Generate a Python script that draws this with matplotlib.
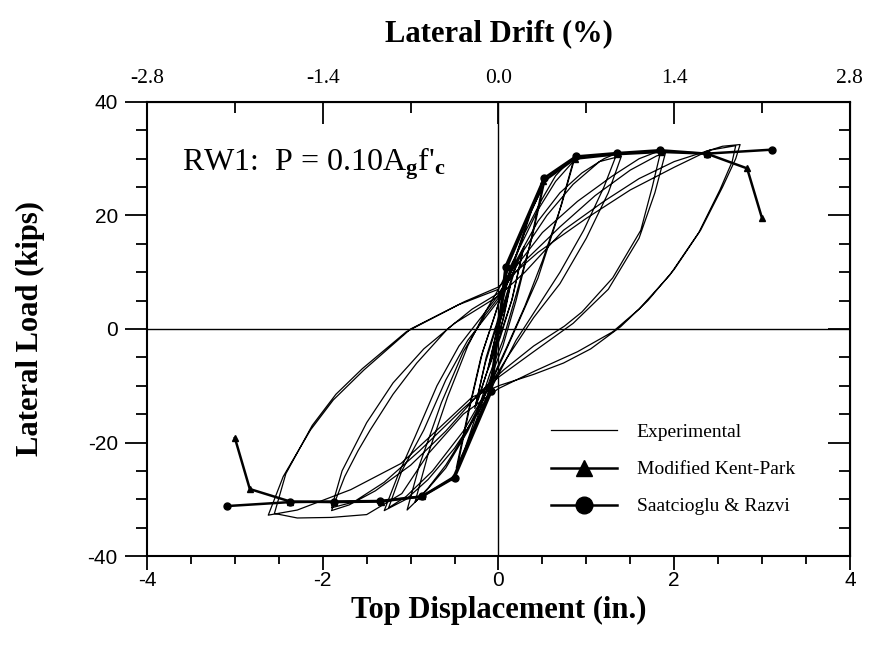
import numpy as np
import matplotlib
matplotlib.use("Agg")
import matplotlib.pyplot as plt
from matplotlib.ticker import MultipleLocator, FixedLocator, FormatStrFormatter, NullFormatter

plt.rcParams['axes.unicode_minus'] = False
plt.rcParams['mathtext.fontset'] = 'custom'
plt.rcParams['mathtext.rm'] = 'Liberation Serif'
plt.rcParams['mathtext.bf'] = 'Liberation Serif:bold'
plt.rcParams['mathtext.it'] = 'Liberation Serif:italic'

# experimental load-displacement history (in., kips)
exp_x = [0.00, 0.08, 0.14, 0.06, -0.04, -0.12, -0.03, 0.05, 0.13, 0.04, -0.05, -0.11, -0.02,
         0.10, 0.20, 0.28, 0.15, 0.02, -0.12, -0.22, -0.27, -0.15, -0.02, 0.10, 0.20, 0.29, 0.16, 0.02, -0.14, -0.26, -0.14, -0.02,
         0.10, 0.25, 0.38, 0.52, 0.38, 0.20, 0.05, -0.10, -0.25, -0.38, -0.48, -0.35, -0.20, -0.05, 0.05, 0.20, 0.35, 0.50, 0.36, 0.20,
         0.05, -0.10, -0.25, -0.40, -0.47, -0.33, -0.18, -0.03,
         0.10, 0.30, 0.50, 0.65, 0.80, 0.87, 0.72, 0.50, 0.30, 0.10, -0.05, -0.20, -0.40, -0.60, -0.80, -0.95, -0.80, -0.58, -0.35,
         -0.15, 0.00, 0.20, 0.45, 0.65, 0.85, 0.68, 0.45, 0.25, 0.05, -0.10, -0.35, -0.60, -0.85, -1.04, -0.90, -0.65, -0.40, -0.15, 0.00,
         0.20, 0.45, 0.70, 0.95, 1.20, 1.35, 1.20, 0.97, 0.70, 0.45, 0.20, 0.00, -0.20, -0.50, -0.80, -1.05, -1.30, -1.15, -0.95, -0.70,
         -0.45, -0.20, 0.00, 0.25, 0.55, 0.85, 1.15, 1.40, 1.25, 1.00, 0.70, 0.40, 0.10, -0.10, -0.40, -0.75, -1.05, -1.25, -1.10, -0.85,
         -0.60, -0.35, -0.10, 0.00,
         0.20, 0.50, 0.90, 1.30, 1.60, 1.85, 1.75, 1.62, 1.30, 0.95, 0.75, 0.40, 0.06, -0.20, -0.60, -1.00, -1.40, -1.70, -1.90, -1.75,
         -1.60, -1.46, -1.20, -0.93, -0.58, -0.30, 0.00, 0.30, 0.70, 1.10, 1.50, 1.80, 1.90, 1.78, 1.60, 1.25, 0.85, 0.40, 0.00, -0.40,
         -0.90, -1.30, -1.65, -1.90, -1.78, -1.50, -1.20, -0.85, -0.50, 0.00,
         0.30, 0.74, 1.20, 1.60, 2.00, 2.30, 2.55, 2.75, 2.70, 2.55, 2.30, 2.00, 1.70, 1.39, 1.05, 0.74, 0.40, 0.02, -0.30, -0.74, -1.11,
         -1.68, -2.29, -2.62, -2.45, -2.14, -1.88, -1.53, -1.00, -0.39, 0.00, 0.45, 1.00, 1.50, 2.00, 2.40, 2.70, 2.66, 2.52, 2.28, 1.95,
         1.60, 1.30, 0.90, 0.40, 0.00, -0.40, -0.80, -1.10, -1.50, -1.90, -2.29, -2.55, -2.42, -2.12, -1.85, -1.55, -1.05, -0.45, 0.00]
exp_y = [0.0, 5.0, 8.0, 2.0, -3.0, -7.0, -1.0, 3.0, 7.5, 1.0, -3.5, -6.5, -0.5,
         6.0, 11.0, 14.0, 5.0, -1.0, -7.0, -12.0, -14.0, -6.0, 0.5, 6.5, 11.5, 14.5, 5.5, -1.5, -8.0, -13.5, -5.0, 1.0,
         8.0, 15.0, 21.0, 25.5, 16.0, 6.0, -2.0, -8.0, -15.0, -21.0, -24.5, -15.0, -5.0, 2.0, 7.0, 13.0, 20.0, 25.0, 15.0, 5.0,
         -3.0, -9.0, -16.0, -22.0, -24.5, -14.0, -4.0, 3.0,
         9.0, 17.0, 23.0, 27.0, 29.5, 30.2, 22.0, 12.0, 4.0, -3.0, -8.0, -13.0, -19.0, -24.0, -28.0, -30.5, -22.0, -12.0, -3.0,
         3.0, 7.0, 13.0, 21.0, 26.0, 29.5, 20.0, 9.0, 2.0, -5.0, -10.0, -18.0, -24.5, -29.0, -31.9, -24.0, -13.0, -4.0, 2.5, 5.5,
         12.0, 19.0, 24.0, 27.5, 30.0, 31.0, 25.0, 17.4, 10.0, 4.0, -2.0, -8.0, -14.0, -21.0, -26.5, -30.0, -32.0, -26.0, -19.0, -10.0,
         -3.0, 2.0, 6.0, 13.0, 20.0, 25.5, 29.5, 30.5, 24.0, 16.0, 8.0, 2.0, -5.0, -10.0, -18.0, -25.0, -29.5, -31.5, -25.0, -17.8,
         -9.0, -2.0, 3.0, 5.0,
         11.0, 17.0, 22.5, 27.0, 30.0, 31.5, 25.0, 17.4, 9.0, 3.0, 0.5, -3.0, -7.2, -11.0, -18.0, -24.0, -28.5, -31.0, -32.0, -26.0,
         -21.5, -17.8, -11.5, -6.0, 0.0, 3.5, 6.3, 12.0, 18.0, 23.5, 28.0, 30.5, 31.0, 24.0, 16.0, 7.0, 1.0, -4.0, -8.5, -14.0,
         -21.5, -27.0, -30.5, -31.5, -25.0, -16.5, -9.5, -3.5, 1.0, 5.8,
         10.0, 17.4, 22.5, 26.5, 29.5, 31.0, 32.2, 32.5, 30.0, 25.0, 17.4, 10.5, 5.0, 0.4, -3.5, -6.0, -8.0, -9.9, -12.0, -18.4, -23.7,
         -28.3, -31.9, -32.8, -26.0, -17.8, -12.5, -7.2, 0.0, 4.8, 7.4, 13.5, 19.5, 24.5, 28.5, 31.5, 32.3, 29.5, 24.5, 17.0, 9.5,
         3.5, -0.5, -4.0, -7.5, -10.5, -15.0, -22.0, -29.0, -32.7, -33.2, -33.3, -32.5, -25.5, -17.0, -11.5, -7.0, -0.5, 4.3, 7.0]

# Modified Kent-Park model
kp_x = [-3.00, -2.83, -2.37, -1.87, -1.34, -0.87, -0.51, -0.10, 0.00, 0.10, 0.51, 0.87, 1.35, 1.85, 2.37, 2.83, 3.00]
kp_y = [-19.2, -28.2, -30.4, -30.5, -30.4, -29.5, -26.1, -11.0, 0.0, 11.0, 26.0, 30.0, 30.8, 31.2, 30.9, 28.3, 19.5]

# Saatcioglu & Razvi model
sr_x = [-3.09, -2.37, -1.87, -1.35, -0.87, -0.50, -0.08, 0.00, 0.08, 0.52, 0.88, 1.35, 1.84, 2.37, 3.11]
sr_y = [-31.2, -30.5, -30.4, -30.3, -29.5, -26.2, -11.0, 0.0, 11.0, 26.6, 30.4, 31.0, 31.5, 30.9, 31.6]

drift_ticks = [-2.8, -1.4, 0.0, 1.4, 2.8]
drift_minor = [-2.1, -0.7, 0.7, 2.1]

serif = 'Liberation Serif'
sans = 'Liberation Sans'

fig = plt.figure(figsize=(8.71, 6.58), dpi=100)
ax = fig.add_axes([0.1688, 0.155, 0.807, 0.690])

ax.axhline(0, color='black', lw=1.0, zorder=1)
ax.axvline(0, color='black', lw=1.0, zorder=1)

l_exp, = ax.plot(exp_x, exp_y, color='black', lw=0.9, label='Experimental')
l_kp, = ax.plot(kp_x, kp_y, color='black', lw=1.8, marker='^', ms=5, label='Modified Kent-Park')
l_sr, = ax.plot(sr_x, sr_y, color='black', lw=1.8, marker='o', ms=5, label='Saatcioglu & Razvi')

ax.set_xlim(-4, 4)
ax.set_ylim(-40, 40)
ax.xaxis.set_major_locator(MultipleLocator(2))
ax.xaxis.set_minor_locator(MultipleLocator(0.5))
ax.yaxis.set_major_locator(MultipleLocator(20))
ax.yaxis.set_minor_locator(MultipleLocator(5))
ax.tick_params(axis='x', which='major', direction='out', length=10, width=1.3, pad=1)
ax.tick_params(axis='x', which='minor', direction='out', length=6, width=1.3)
ax.tick_params(axis='y', which='major', direction='out', length=16, width=1.3, pad=5)
ax.tick_params(axis='y', which='minor', direction='out', length=8, width=1.3)
for lab in ax.get_xticklabels() + ax.get_yticklabels():
    lab.set_fontfamily(sans)
    lab.set_fontsize(15)
for sp in ax.spines.values():
    sp.set_linewidth(1.5)

# drift axis on top
top = ax.secondary_xaxis('top', functions=(lambda d: d * 0.7, lambda p: p / 0.7))
top.xaxis.set_major_locator(FixedLocator(drift_ticks))
top.xaxis.set_minor_locator(FixedLocator(drift_minor))
top.xaxis.set_major_formatter(FormatStrFormatter('%.1f'))
top.tick_params(which='major', direction='in', length=16, width=1.3, pad=10)
top.tick_params(which='minor', direction='in', length=8, width=1.3)
for lab in top.get_xticklabels():
    lab.set_fontfamily(serif)
    lab.set_fontsize(15.5)
top.set_xlabel('Lateral Drift (%)', fontfamily=serif, fontweight='bold', fontsize=22, labelpad=20)

# plain tick marks on the right side
right = ax.secondary_yaxis('right')
right.yaxis.set_major_locator(MultipleLocator(20))
right.yaxis.set_minor_locator(MultipleLocator(5))
right.yaxis.set_major_formatter(NullFormatter())
right.tick_params(which='major', direction='in', length=16, width=1.3)
right.tick_params(which='minor', direction='in', length=8, width=1.3)

ax.set_xlabel('Top Displacement (in.)', fontfamily=serif, fontweight='bold', fontsize=22, labelpad=4)
ax.set_ylabel('Lateral Load (kips)', fontfamily=serif, fontweight='bold', fontsize=22)
ax.yaxis.set_label_coords(-0.145, 0.5)

ax.text(0.05, 0.865, r"RW1:  P = 0.10A$_{\mathbf{g}}$f$'_{\mathbf{c}}$",
        transform=ax.transAxes, fontfamily=serif, fontsize=23, va='center', ha='left')

leg = ax.legend(handles=[l_exp, l_kp, l_sr], loc='upper left', bbox_to_anchor=(0.55, 0.33),
                frameon=False, prop={'family': serif, 'size': 14}, handlelength=3.4,
                handletextpad=1.0, labelspacing=1.0, markerscale=2.4)

fig.savefig('out.png', dpi=100)
